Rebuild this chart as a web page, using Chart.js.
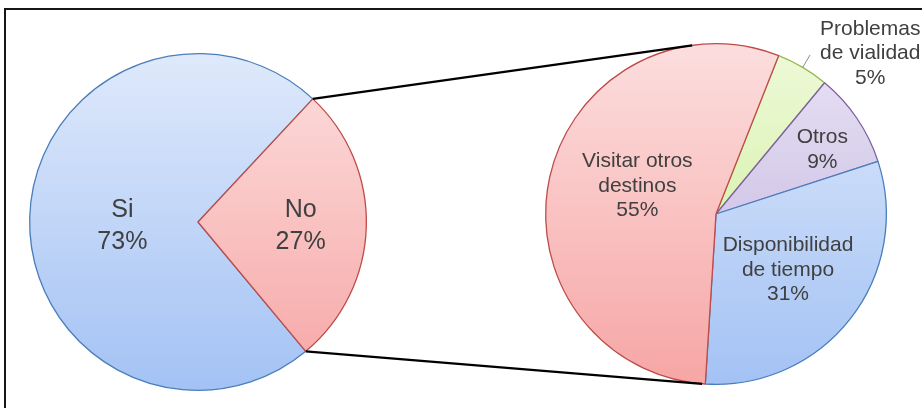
<!DOCTYPE html>
<html>
<head>
<meta charset="utf-8">
<script src="https://cdn.jsdelivr.net/npm/chart.js@4"></script>
<style>
  html, body { margin: 0; padding: 0; background: #fff; overflow: hidden; }
  #wrap { position: relative; width: 922px; height: 408px; overflow: hidden; }
  #frame { position: absolute; left: 4px; top: 8px; width: 1000px; height: 1000px; border: 2px solid #161616; box-sizing: border-box; }
  canvas { position: absolute; left: 0; top: 0; }
</style>
</head>
<body>
<div id="wrap">
  <div id="frame"></div>
  <canvas id="pieMain" width="922" height="408"></canvas>
  <canvas id="pieDetail" width="922" height="408"></canvas>
</div>
<script>
// main pie
const mainLabels = [['Si'], ['No']];
const mainValues = [73, 27];
// breakdown of "No"
const detailLabels = [['Problemas', 'de vialidad'], ['Otros'], ['Disponibilidad', 'de tiempo'], ['Visitar otros', 'destinos']];
const detailValues = [5, 9, 31, 55];

// gradient stops (top -> bottom) and border per colour
const palette = {
  blue:   { top: '#dfe9fb', bottom: '#a3c2f4', line: '#4a7ebb' },
  red:    { top: '#fcdede', bottom: '#f6a6a5', line: '#be4b48' },
  green:  { top: '#eefad9', bottom: '#c8ea8e', line: '#98b954' },
  purple: { top: '#e9e3f5', bottom: '#bcaddb', line: '#7d60a0' }
};
const mainColors = ['blue', 'red'];
const detailColors = ['green', 'purple', 'blue', 'red'];

const FONT = '"Liberation Sans", Arial, sans-serif';

function gradientFill(names) {
  return (c) => {
    const area = c.chart.chartArea;
    const p = palette[names[c.dataIndex]];
    if (!area) return p.top;
    const g = c.chart.ctx.createLinearGradient(0, area.top, 0, area.bottom);
    g.addColorStop(0, p.top);
    g.addColorStop(1, p.bottom);
    return g;
  };
}

// draws "name / value%" inside (or beside) each slice
const sliceLabels = {
  id: 'sliceLabels',
  afterDatasetsDraw(chart, args, opts) {
    const ctx = chart.ctx;
    const meta = chart.getDatasetMeta(0);
    const values = chart.data.datasets[0].data;
    ctx.save();
    ctx.font = opts.fontSize + 'px ' + FONT;
    ctx.fillStyle = '#404040';
    ctx.textAlign = 'center';
    ctx.textBaseline = 'middle';
    meta.data.forEach((arc, i) => {
      const mid = (arc.startAngle + arc.endAngle) / 2;
      const [rf, shift] = opts.anchors[i];
      const a = mid + shift * Math.PI / 180;
      const cx = arc.x + Math.cos(a) * arc.outerRadius * rf;
      const cy = arc.y + Math.sin(a) * arc.outerRadius * rf;
      const lines = chart.data.labels[i].concat(values[i] + '%');
      lines.forEach((t, k) => {
        ctx.fillText(t, cx, cy + (k - (lines.length - 1) / 2) * opts.lineHeight);
      });
      if (opts.leaders && opts.leaders[i]) {
        ctx.strokeStyle = '#8c8c8c';
        ctx.lineWidth = 1;
        ctx.beginPath();
        ctx.moveTo(arc.x + Math.cos(mid) * arc.outerRadius, arc.y + Math.sin(mid) * arc.outerRadius);
        ctx.lineTo(arc.x + Math.cos(mid) * arc.outerRadius * 1.085, arc.y + Math.sin(mid) * arc.outerRadius * 1.085);
        ctx.stroke();
      }
    });
    ctx.restore();
  }
};

const mainChart = new Chart(document.getElementById('pieMain'), {
  type: 'pie',
  data: {
    labels: mainLabels,
    datasets: [{
      data: mainValues,
      backgroundColor: gradientFill(mainColors),
      borderColor: mainColors.map((n) => palette[n].line),
      borderWidth: 1.3
    }]
  },
  options: {
    responsive: false,
    animation: false,
    rotation: 140.2,
    events: [],
    layout: { padding: { left: 29, top: 53, right: 555, bottom: 17 } },
    plugins: {
      legend: { display: false },
      tooltip: { enabled: false },
      sliceLabels: { fontSize: 25, lineHeight: 32, anchors: [[0.45, -4.6], [0.61, 0.6]] }
    }
  },
  plugins: [sliceLabels]
});

// series lines: from the edges of "No" tangent to the detail pie
const seriesLines = {
  id: 'seriesLines',
  afterDraw(chart) {
    const src = mainChart.getDatasetMeta(0).data[1];
    const dst = chart.getDatasetMeta(0).data[0];
    const r = dst.outerRadius;
    const ctx = chart.ctx;
    ctx.save();
    ctx.strokeStyle = '#000';
    ctx.lineWidth = 2.2;
    [[src.startAngle, -1], [src.endAngle, 1]].forEach(([ang, side]) => {
      const px = src.x + Math.cos(ang) * src.outerRadius;
      const py = src.y + Math.sin(ang) * src.outerRadius;
      const d = Math.hypot(px - dst.x, py - dst.y);
      const phi = Math.atan2(py - dst.y, px - dst.x);
      const beta = Math.acos(r / d);
      const cands = [phi + beta, phi - beta].map((t) => [dst.x + Math.cos(t) * r, dst.y + Math.sin(t) * r]);
      cands.sort((a, b) => side * (b[1] - a[1]));
      const t = cands[0];
      ctx.beginPath();
      ctx.moveTo(px, py);
      ctx.lineTo(t[0], t[1]);
      ctx.stroke();
    });
    ctx.restore();
  }
};

new Chart(document.getElementById('pieDetail'), {
  type: 'pie',
  data: {
    labels: detailLabels,
    datasets: [{
      data: detailValues,
      backgroundColor: gradientFill(detailColors),
      borderColor: detailColors.map((n) => palette[n].line),
      borderWidth: 1.3
    }]
  },
  options: {
    responsive: false,
    animation: false,
    rotation: 21.6,
    events: [],
    layout: { padding: { left: 545, top: 43, right: 35, bottom: 23 } },
    plugins: {
      legend: { display: false },
      tooltip: { enabled: false },
      sliceLabels: {
        fontSize: 21,
        lineHeight: 24.5,
        anchors: [[1.306, 13.3], [0.73, 3], [0.535, 0], [0.49, 7]],
        leaders: [true, false, false, false]
      }
    }
  },
  plugins: [sliceLabels, seriesLines]
});
</script>
</body>
</html>
